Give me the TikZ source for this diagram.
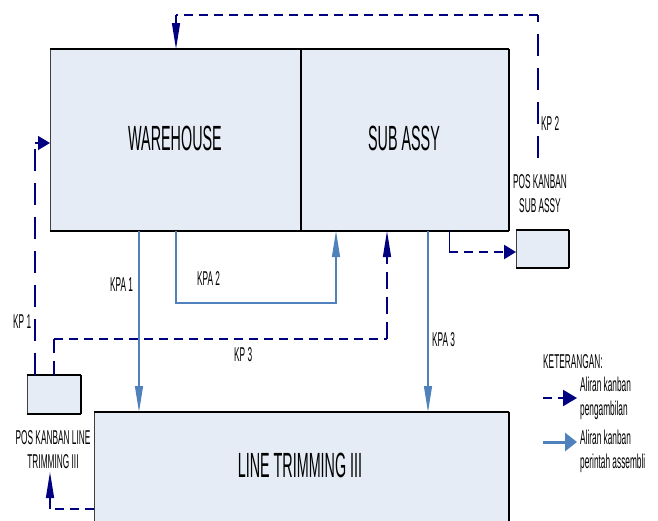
\documentclass[tikz,border=0pt]{standalone}
\usepackage{fontspec}
\setmainfont{Liberation Sans}
\newfontfamily\bigf[FakeStretch=0.41]{Liberation Sans}
\newfontfamily\smf[FakeStretch=0.415]{Liberation Sans}
\usetikzlibrary{arrows.meta,calc}
\definecolor{kpnavy}{RGB}{0,0,128}
\definecolor{kpblue}{RGB}{79,129,189}
\definecolor{boxfill}{RGB}{230,236,246}
\begin{document}
\begin{tikzpicture}[x=1pt,y=-1pt,
 area/.style={draw=black!75, line width=1pt, fill=boxfill, inner sep=0pt, anchor=north west},
 edgeline/.style={black, line width=2.2pt},
 bigtext/.style={font=\bigf\fontsize{35}{40}\selectfont, inner sep=0pt},
 smalltext/.style={font=\smf\fontsize{20}{24}\selectfont, inner sep=0pt, align=center},
 pick/.style={kpnavy, line width=2.2pt, dash pattern=on 9pt off 6pt},
 picklong/.style={kpnavy, line width=1.4pt, dash pattern=on 22pt off 12pt},
 order/.style={kpblue, line width=1.2pt},
 longhead/.style={-{Triangle[length=26pt,width=8pt]}},
 shorthead/.style={-{Triangle[length=12pt,width=14pt]}},
]
\useasboundingbox (0,0) rectangle (658,520);
\clip (0,0) rectangle (658,520);

% boxes
\node[area, minimum width=251pt, minimum height=181pt] (wh) at (50,49) {};
\node[area, minimum width=207pt, minimum height=181pt] (sa) at (301,49) {};
\node[area, minimum width=414pt, minimum height=140pt] (lt) at (94,412) {};
\node[area, minimum width=52pt, minimum height=37pt] (psa) at (516,230) {};
\node[area, minimum width=53pt, minimum height=38pt] (plt) at (27,375) {};

\draw[edgeline] (wh.north west) -- (sa.north east);
\draw[edgeline] (wh.south west) -- (sa.south east);
\draw[black, line width=1.5pt] (sa.north east) -- (sa.south east);
\draw[black, line width=1.2pt] (sa.north west) -- (sa.south west);
\draw[edgeline] (lt.north west) -- (lt.north east);
\draw[black, line width=1.5pt] (lt.north east) -- (lt.south east);
\draw[black, line width=1.8pt] (psa.north west) -- (psa.north east);
\draw[black, line width=1.8pt] (psa.south west) -- (psa.south east);
\draw[black, line width=1.5pt] (psa.north east) -- (psa.south east);
\draw[black, line width=1.8pt] (plt.north west) -- (plt.north east);
\draw[black, line width=1.8pt] (plt.south west) -- (plt.south east);
\draw[black, line width=1.5pt] (plt.north east) -- (plt.south east);

% big labels
\node[bigtext] (twh) at (175,138) {WAREHOUSE};
\node[bigtext] (tsa) at (404,138) {SUB ASSY};
\node[bigtext] (tlt) at (300,465) {LINE TRIMMING III};

% small labels
\node[smalltext] (lpsa) at (540,193.5) {POS KANBAN\\SUB ASSY};
\node[smalltext] (lplt) at (53,449.5) {POS KANBAN LINE\\TRIMMING III};
\node[smalltext, anchor=west] (lkp2) at (541,124) {KP 2};
\node[smalltext, anchor=west] (lkp1) at (13,322) {KP 1};
\node[smalltext, anchor=west] (lkpa1) at (110,285) {KPA 1};
\node[smalltext, anchor=west] (lkpa2) at (197,279) {KPA 2};
\node[smalltext, anchor=west] (lkp3) at (234,355) {KP 3};
\node[smalltext, anchor=west] (lkpa3) at (432,340) {KPA 3};

% KP 2 : sub assy post -> warehouse
\coordinate (kp2s) at (538,158);
\coordinate (kp2a) at (538,15);
\coordinate (kp2b) at (176,15);
\draw[picklong] (kp2s) -- (kp2a);
\draw[pick] (kp2a) -- (kp2b);
\draw[kpnavy, line width=1.3pt, longhead] (kp2b) -- (kp2b |- wh.north);

% KP 1 : line post -> warehouse
\coordinate (kp1s) at ($(plt.north west)+(8,0)$);
\coordinate (kp1a) at (35,143);
\coordinate (kp1e) at ($(wh.north west)+(0,94)$);
\draw[picklong] (kp1s) -- (kp1a);
\draw[kpnavy, line width=1.3pt, shorthead] (kp1a) -- (kp1e);

% KP 3 : line post -> sub assy
\coordinate (kp3s) at ($(plt.north west)+(27,0)$);
\coordinate (kp3a) at (54,339);
\coordinate (kp3b) at (387,339);
\draw[kpnavy, line width=1.2pt, dash pattern=on 14pt off 8pt] (kp3s) -- (kp3a);
\draw[pick] (kp3a) -- (kp3b);
\draw[kpnavy, line width=1.3pt, dash pattern=on 17pt off 8pt, longhead] (kp3b) -- (kp3b |- sa.south);

% sub assy -> post sub assy
\coordinate (sps) at ($(sa.south west)+(148,0)$);
\coordinate (spa) at (449,252);
\coordinate (spe) at ($(psa.north west)+(0,22)$);
\draw[kpnavy, line width=1pt] (sps) -- (spa);
\draw[pick, shorthead] (spa) -- (spe);

% line trimming -> post line trimming
\coordinate (lps) at ($(lt.north west)+(0,97)$);
\coordinate (lpa) at (50,509);
\coordinate (lpe) at (50,472);
\draw[pick] (lps) -- (lpa);
\draw[kpnavy, line width=1.3pt, longhead] (lpa) -- (lpe);

% blue production kanban
\coordinate (kpa1s) at ($(wh.south west)+(89,0)$);
\draw[order, longhead] (kpa1s) -- (kpa1s |- lt.north);
\coordinate (kpa2s) at ($(wh.south west)+(126,0)$);
\coordinate (kpa2a) at (176,303);
\coordinate (kpa2b) at (336,303);
\draw[order, longhead] (kpa2s) -- (kpa2a) -- (kpa2b) -- (kpa2b |- sa.south);
\coordinate (kpa3s) at ($(sa.south west)+(127,0)$);
\draw[order, longhead] (kpa3s) -- (kpa3s |- lt.north);

% legend
\node[smalltext, anchor=west] (leg) at (543,362) {KETERANGAN:};
\coordinate (lg1a) at (543,398);
\coordinate (lg1b) at (577,398);
\draw[pick, -{Triangle[length=14pt,width=16pt]}] (lg1a) -- (lg1b);
\node[smalltext, anchor=west, align=left] (lg1t) at (580,398.5) {Aliran kanban\\pengambilan};
\coordinate (lg2a) at (543,442);
\coordinate (lg2b) at (577,442);
\draw[kpblue, line width=3pt, -{Triangle[length=12pt,width=18pt]}] (lg2a) -- (lg2b);
\node[smalltext, anchor=west, align=left] (lg2t) at (580,451.5) {Aliran kanban\\perintah assembli};
\end{tikzpicture}
\end{document}
